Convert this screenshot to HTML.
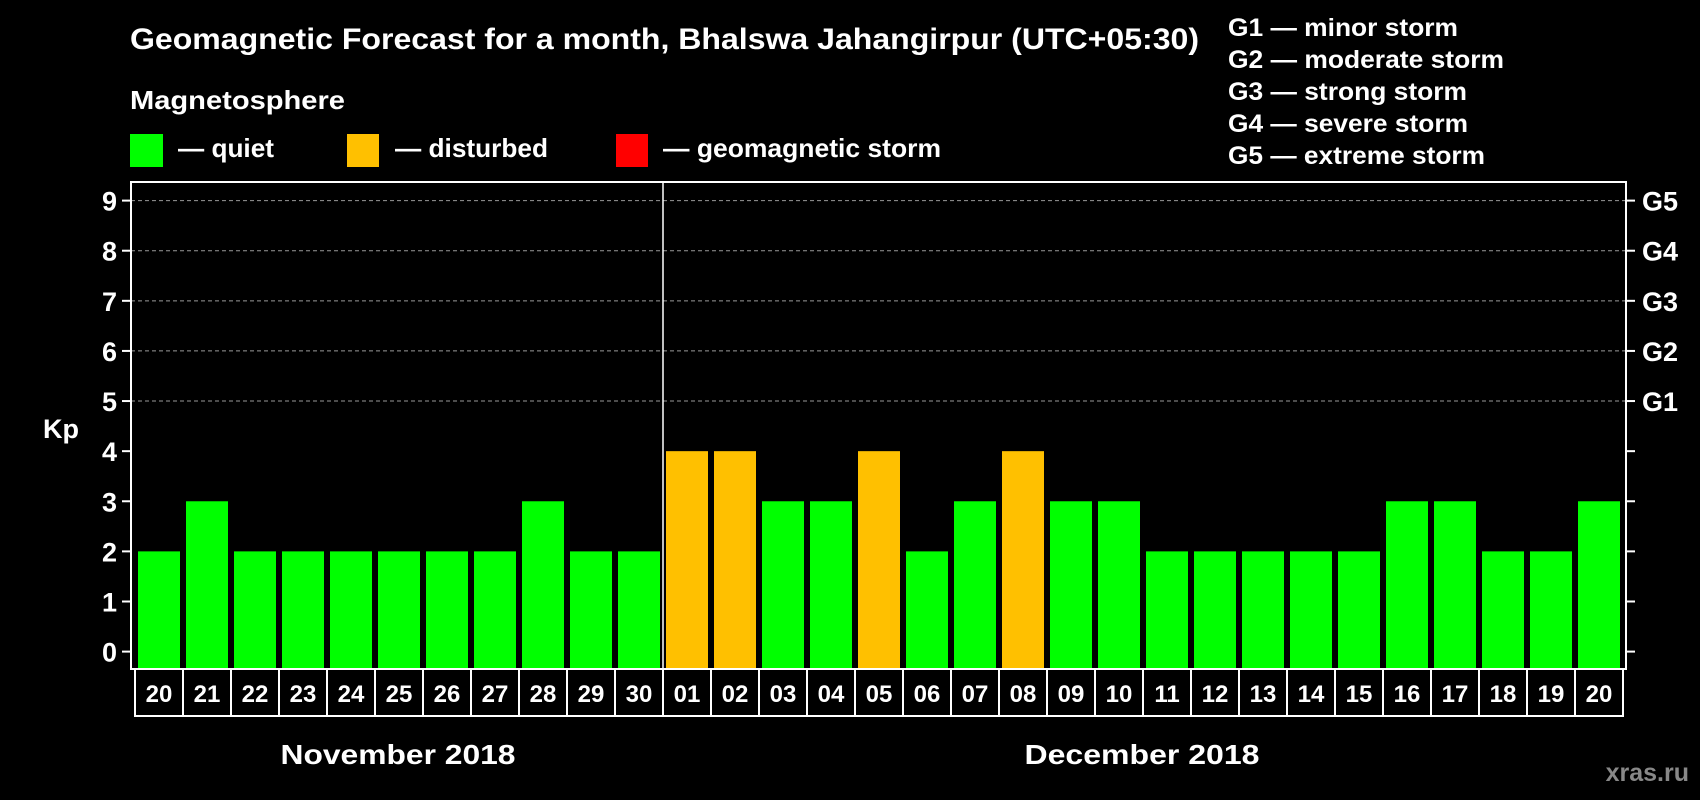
<!DOCTYPE html>
<html><head><meta charset="utf-8"><style>
html,body{margin:0;padding:0;background:#000;width:1700px;height:800px;overflow:hidden}
svg{display:block}
text{font-family:"Liberation Sans",Arial,sans-serif;font-weight:bold;fill:#fff}
</style></head><body>
<svg id="chart" width="1700" height="800" xmlns="http://www.w3.org/2000/svg">
<text x="130" y="49" font-size="30" textLength="1069" lengthAdjust="spacingAndGlyphs">Geomagnetic Forecast for a month, Bhalswa Jahangirpur (UTC+05:30)</text>
<text x="130" y="109" font-size="26" textLength="215" lengthAdjust="spacingAndGlyphs">Magnetosphere</text>
<g><rect x="130" y="134" width="33" height="33" fill="#00ff00"/><text x="178" y="157" font-size="26" textLength="96" lengthAdjust="spacingAndGlyphs">— quiet</text></g>
<g><rect x="347" y="134" width="32" height="33" fill="#ffc000"/><text x="395" y="157" font-size="26" textLength="153" lengthAdjust="spacingAndGlyphs">— disturbed</text></g>
<g><rect x="616" y="134" width="32" height="33" fill="#ff0000"/><text x="663" y="157" font-size="26" textLength="278" lengthAdjust="spacingAndGlyphs">— geomagnetic storm</text></g>
<g font-size="25">
<text x="1228" y="36" textLength="230" lengthAdjust="spacingAndGlyphs">G1 — minor storm</text>
<text x="1228" y="68" textLength="276" lengthAdjust="spacingAndGlyphs">G2 — moderate storm</text>
<text x="1228" y="100" textLength="239" lengthAdjust="spacingAndGlyphs">G3 — strong storm</text>
<text x="1228" y="132" textLength="240" lengthAdjust="spacingAndGlyphs">G4 — severe storm</text>
<text x="1228" y="164" textLength="257" lengthAdjust="spacingAndGlyphs">G5 — extreme storm</text>
</g>
<g id="grid"></g>
<g id="bars"></g>
<g id="axes"></g>
<text x="43" y="438" font-size="27">Kp</text>
<text x="398" y="764" font-size="28" text-anchor="middle" textLength="235" lengthAdjust="spacingAndGlyphs">November 2018</text>
<text x="1142" y="764" font-size="28" text-anchor="middle" textLength="235" lengthAdjust="spacingAndGlyphs">December 2018</text>
<text x="1689" y="781" font-size="25" text-anchor="end" style="fill:#888">xras.ru</text>
</svg>
<script>
const days = ["20","21","22","23","24","25","26","27","28","29","30","01","02","03","04","05","06","07","08","09","10","11","12","13","14","15","16","17","18","19","20"];
const kpValues = [2,3,2,2,2,2,2,2,3,2,2,4,4,3,3,4,2,3,4,3,3,2,2,2,2,2,3,3,2,2,3];
const yTicks = [0,1,2,3,4,5,6,7,8,9];
const gLabels = ["G1","G2","G3","G4","G5"];
const monthStartIndex = 11;

const NS="http://www.w3.org/2000/svg";
const plotL=131, plotR=1626, plotT=182, plotB=669;
const slot0=135, slotW=48;
function y(v){return 651.6 - v*(451/9);}
function x(i){return slot0 + i*slotW;}
function mk(tag,attrs,parent){const e=document.createElementNS(NS,tag);for(const k in attrs)e.setAttribute(k,attrs[k]);parent.appendChild(e);return e;}
const grid=document.getElementById('grid'), bars=document.getElementById('bars'), axes=document.getElementById('axes');

yTicks.forEach(v=>{
  if(v>=5){const l=mk('line',{x1:plotL,x2:plotR,y1:y(v),y2:y(v),stroke:'#999','stroke-width':1,'stroke-dasharray':'4,3'},grid);
  
  }
  const t=mk('line',{x1:122,x2:plotL,y1:y(v),y2:y(v),stroke:'#fff','stroke-width':2},axes);
  
  
  const t2=mk('line',{x1:plotR,x2:plotR+9,y1:y(v),y2:y(v),stroke:'#fff','stroke-width':2},axes);
  
  
  const lb=mk('text',{x:117,y:y(v)+10,'font-size':27,'text-anchor':'end'},axes);
  lb.textContent=v;
  
  
});
gLabels.forEach((g,i)=>{
  const lb=mk('text',{x:1642,y:y(5+i)+10,'font-size':27},axes);
  lb.textContent=g;
  
  
});
kpValues.forEach((v,i)=>{
  const col=v>=5?'#ff0000':(v>=4?'#ffc000':'#00ff00');
  const r=mk('rect',{x:x(i)+3,y:y(v),width:slotW-6,height:plotB-y(v),fill:col},bars);
  
  
  const c=mk('rect',{x:x(i),y:plotB,width:slotW,height:47,fill:'none',stroke:'#fff','stroke-width':2},axes);
  
  
  const t=mk('text',{x:x(i)+slotW/2,y:plotB+33,'font-size':24,'text-anchor':'middle'},axes);
  t.textContent=days[i];
  
  
});
const fr=mk('rect',{x:plotL,y:plotT,width:plotR-plotL,height:plotB-plotT,fill:'none',stroke:'#fff','stroke-width':2},axes);


const sep=mk('line',{x1:x(monthStartIndex),x2:x(monthStartIndex),y1:plotT,y2:plotB,stroke:'#fff','stroke-width':1.5},axes);


</script>
</body></html>
